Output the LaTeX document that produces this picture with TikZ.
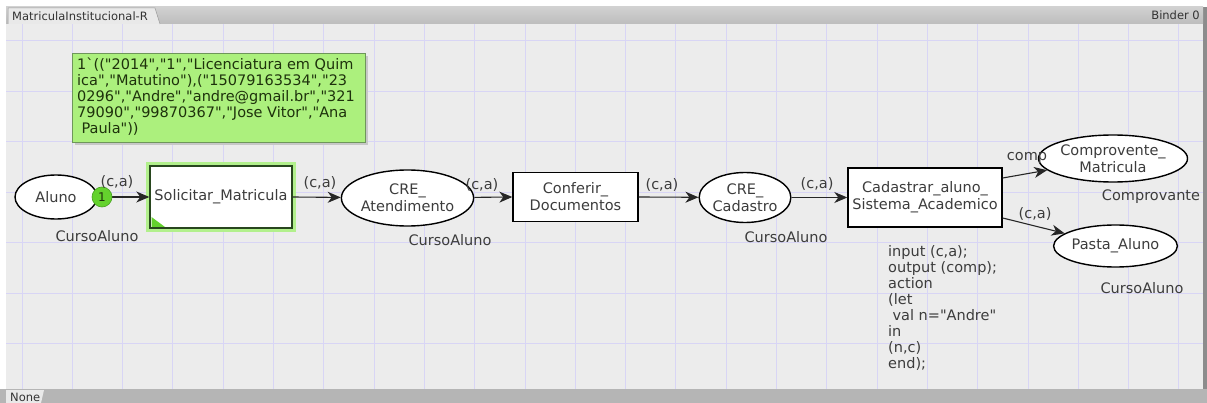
\documentclass[tikz,border=0pt]{standalone}
\usepackage{fontspec}
\setmainfont{DejaVu Sans}[Ligatures=TeXOff]
\usetikzlibrary{shapes.geometric,arrows.meta}
\definecolor{canvasbg}{RGB}{236,236,236}
\definecolor{gridc}{RGB}{216,213,245}
\definecolor{barc}{RGB}{201,206,211}
\definecolor{tabc}{RGB}{233,233,233}
\definecolor{botbar}{RGB}{181,181,181}
\definecolor{txtg}{RGB}{60,60,60}
\definecolor{notefill}{RGB}{172,240,125}
\definecolor{notedraw}{RGB}{110,150,90}
\definecolor{notetxt}{RGB}{30,50,12}
\definecolor{tokfill}{RGB}{100,210,45}
\definecolor{tokdraw}{RGB}{70,160,30}
\definecolor{glowc}{RGB}{178,240,140}
\definecolor{seldraw}{RGB}{40,70,30}
\begin{document}
\begin{tikzpicture}[x=1pt,y=-1pt,
  base/.style={font=\fontsize{14.5}{17}\selectfont, text=txtg, align=center, inner sep=0pt},
  place/.style={base, ellipse, draw=black, line width=1.4pt, fill=white},
  trans/.style={base, rectangle, draw=black, line width=1.4pt, fill=white},
  lab/.style={base},
  tlab/.style={base},
  arc/.style={draw=black!85, line width=1.1pt, -{Stealth[length=13pt,width=11pt,inset=4pt]}},
  tok/.style={circle, fill=tokfill, draw=tokdraw, line width=0.6pt, minimum size=20pt, inner sep=0pt, font=\fontsize{12}{12}\selectfont, text=notetxt},
  notebox/.style={rectangle, fill=notefill, draw=notedraw, line width=0.8pt, anchor=north west, inner sep=0pt, minimum width=293pt, minimum height=89pt},
  notetext/.style={align=left, text=notetxt, font=\fontsize{14.5}{16}\selectfont, anchor=north west, inner sep=0pt},
  code/.style={base, align=left, font=\fontsize{14.5}{16}\selectfont},
  bar/.style={font=\fontsize{11.5}{12}\selectfont, text=black!80, inner sep=0pt}
]
\useasboundingbox (0,0) rectangle (1207,403);
% background
\fill[white] (0,0) rectangle (1207,403);
\fill[canvasbg] (6,24) rectangle (1203,389);
\fill[black!45] (1203,7) rectangle (1207,389);
% grid
\foreach \i in {0,...,23} {
  \draw[gridc, line width=0.9pt] ({22+50.3*\i},24) -- ({22+50.3*\i},389);
}
\foreach \j in {0,...,6} {
  \draw[gridc, line width=0.9pt] (6,{40.6+50.5*\j}) -- (1203,{40.6+50.5*\j});
}
% top bar
\shade[top color=black!18, bottom color=black!26] (6,7) rectangle (1203,24);
\fill[tabc] (8,8) -- (155,8) -- (160,24) -- (8,24) -- cycle;
\draw[black!40, line width=0.5pt] (8,24) -- (8,8) -- (155,8) -- (160,24);
\node[bar, anchor=west] (tabname) at (12,16) {MatriculaInstitucional-R};
\node[bar, anchor=east] (binder) at (1200,15) {Binder 0};
% bottom bar
\fill[botbar] (0,389) rectangle (1207,403);
\fill[tabc] (6,390) -- (44,390) -- (41,403) -- (6,403) -- cycle;
\node[bar, anchor=west] (nonetab) at (10,397) {None};
% annotation
\fill[black!22] (75,56) rectangle (368,145);
\node[notebox] (ann) at (72,53) {};
\node[notetext] (anntext) at (77,58) {1\symbol{96}(("2014","1","Licenciatura em Quim\\
ica","Matutino"),("15079163534","23\\
0296","Andre","andre@gmail.br","321\\
79090","99870367","Jose Vitor","Ana\\
\hspace{0.3em}Paula"))};
% glow around selected transition
\draw[glowc, line width=4pt] (148,164) rectangle (294,230);
% places and transitions
\node[place, minimum width=82pt, minimum height=44pt] (aluno) at (56,197) {Aluno};
\node[trans, draw=seldraw, minimum width=142pt, minimum height=62pt] (sol) at (221,197) {Solicitar\_Matricula};
\fill[tokfill] (151.5,227) -- (151.5,217) -- (165,227) -- cycle;
\node[place, minimum width=111pt, minimum height=56pt] (atd) at (407.5,198) {CRE\_\\Atendimento};
\node[trans, minimum width=125pt, minimum height=49pt] (conf) at (575.5,197) {Conferir\_\\Documentos};
\node[place, minimum width=90pt, minimum height=50pt] (cad) at (745,197.5) {CRE\_\\Cadastro};
\node[trans, minimum width=154pt, minimum height=59pt] (sis) at (925,197.5) {Cadastrar\_aluno\_\\Sistema\_Academico};
\node[place, minimum width=130pt, minimum height=47pt] (compm) at (1113,158.5) {Comprovente\_\\Matricula};
\node[place, minimum width=115pt, minimum height=42pt] (pasta) at (1115.5,246) {Pasta\_Aluno};
% arcs
\draw[arc] (aluno.east) -- (sol.west);
\draw[arc] (sol.east) -- (atd);
\draw[arc] (atd) -- (conf.west);
\draw[arc] (conf.east) -- (cad);
\draw[arc] (cad) -- (sis.west);
\draw[arc] ([yshift=19.5pt]sis.east) -- (compm);
\draw[arc] ([yshift=-20.5pt]sis.east) -- (pasta);
% token
\node[tok] (token) at (102,197) {1};
% arc labels
\node[lab] (l1) at (117,182) {(c,a)};
\node[lab] (l2) at (320,183) {(c,a)};
\node[lab] (l3) at (482,185) {(c,a)};
\node[lab] (l4) at (662,185) {(c,a)};
\node[lab] (l5) at (817,184) {(c,a)};
\node[lab] (l6) at (1027,158) {comp};
\node[lab] (l7) at (1035,214) {(c,a)};
% type labels
\node[tlab] (t1) at (97,236) {CursoAluno};
\node[tlab] (t2) at (450,240) {CursoAluno};
\node[tlab] (t3) at (786,237) {CursoAluno};
\node[tlab] (t4) at (1151,197) {Comprovante};
\node[tlab] (t5) at (1142,288) {CursoAluno};
% code segment
\node[code, anchor=north west] (codeseg) at (888,245) {input (c,a);\\output (comp);\\action\\(let\\\hspace{0.3em}val n="Andre"\\in\\(n,c)\\end);};
\end{tikzpicture}
\end{document}
